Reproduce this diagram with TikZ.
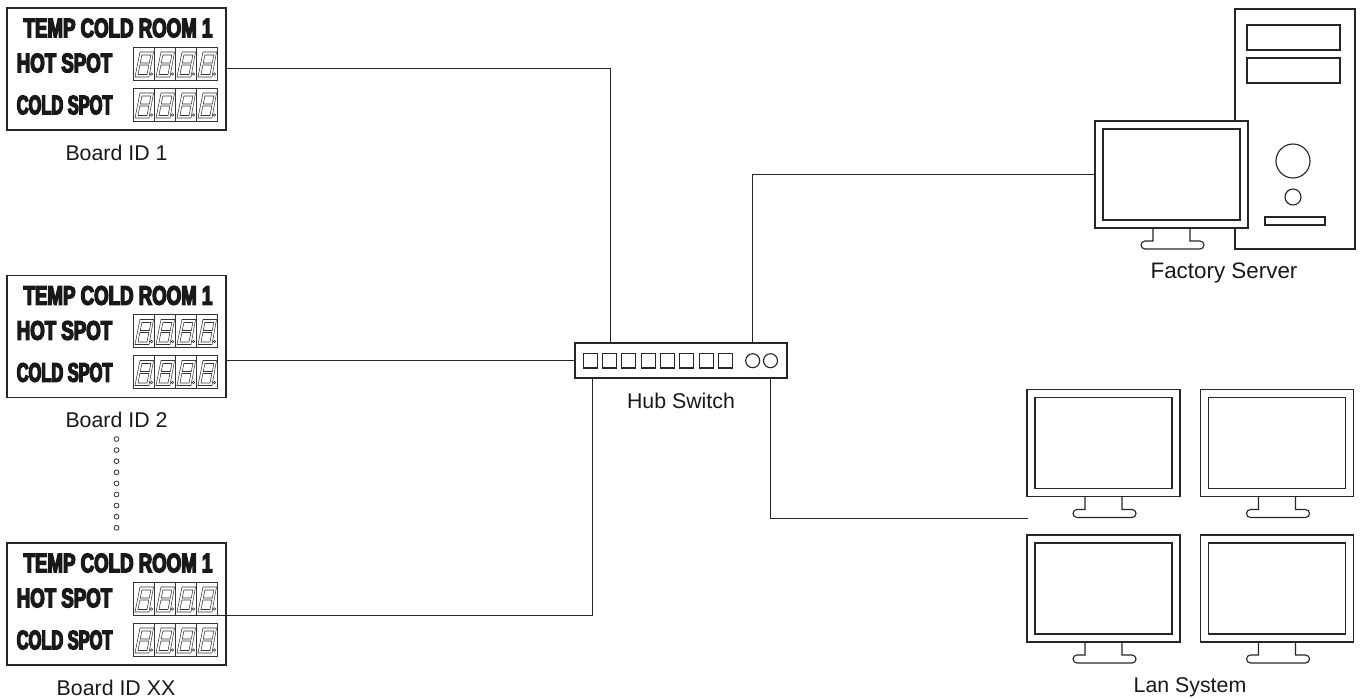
\documentclass[tikz,border=0pt]{standalone}
\usepackage{fontspec}
\setmainfont{Liberation Sans}
\newfontfamily\boardfont{Liberation Sans}[FakeStretch=0.70,BoldFeatures={FakeBold=5}]
\newfontfamily\coldfont{Liberation Sans}[FakeStretch=0.615,BoldFeatures={FakeBold=5}]
\usetikzlibrary{calc}
\def\un{0.75pt}
\tikzset{
	line/.style={black!85, line width=0.85pt},
	thinline/.style={black!80, line width=0.4pt},
	board/.style={draw=black!85, line width=1pt, minimum width=219*\un, minimum height=122*\un, inner sep=0pt},
	boardtext/.style={font=\boardfont\bfseries\fontsize{20}{22}\selectfont, inner sep=0pt, text=black!90},
	coldtext/.style={font=\coldfont\bfseries\fontsize{20}{22}\selectfont, inner sep=0pt, text=black!90},
	caption/.style={font=\fontsize{16}{18}\selectfont, inner sep=0pt, text=black!90},
	pics/digits/.style={code={
		\draw[thinline, line width=0.5pt] (0,0) rectangle (84,33);
		\foreach \i in {0,1,2,3}{
			\begin{scope}[shift={(21*\i,0)}]
				\draw[thinline, line width=0.5pt] (0,0) -- (0,33);
				\draw[thinline] (2,30) -- (16,30) -- (20.5,5) -- (7,5) -- cycle;
				\draw[thinline] (7.3,16) -- (16.3,16) -- (17.9,8) -- (8.9,8) -- cycle;
				\draw[thinline] (5,27.5) -- (14,27.5) -- (15.9,18) -- (6.9,18) -- cycle;
				\draw[thinline] (18.5,27) circle (1.2);
			\end{scope}
		}
	}},
	pics/tempboard/.style={code={
		\node[board] (-box) at (109.5,61) {};
		\node[boardtext] (-title) at (111,20) {TEMP COLD ROOM 1};
		\node[boardtext, anchor=west] (-hot) at (9.5,55) {HOT SPOT};
		\node[coldtext, anchor=west] (-cold) at (9.5,97) {COLD SPOT};
		\pic at (126,39) {digits};
		\pic at (126,80) {digits};
	}},
	pics/monitor/.style={code={
		\node[draw=black!85, line width=1pt, minimum width=153*\un, minimum height=107*\un, inner sep=0pt, fill=white] (-outer) at (76.5,53.5) {};
		\draw[line] (8,8) rectangle (145,99);
		\draw[line] (58,107) -- (58,120) -- (50,120) arc[start angle=-90, end angle=-270, radius=4] -- (105,128) arc[start angle=90, end angle=-90, radius=4] -- (95,120) -- (95,107);
	}}
}
\begin{document}
\begin{tikzpicture}[x=\un, y=-\un]
	\useasboundingbox (0,0) rectangle (1360,699);
	\pic (boardA) at (7,8) {tempboard};
	\pic (boardB) at (7,275.5) {tempboard};
	\pic (boardC) at (7,543) {tempboard};
	\node[caption] (capA) at (116.5,153) {Board ID 1};
	\node[caption] (capB) at (116.5,420) {Board ID 2};
	\node[caption] (capC) at (116,688) {Board ID XX};
	\foreach \k in {0,...,8}
		\draw[thinline, line width=0.6pt] (116.5,{439+11.1*\k}) circle (2.4);
	\node[draw=black!85, line width=1pt, minimum width=212*\un, minimum height=35*\un, inner sep=0pt] (hub) at (681,360.5) {};
	\foreach \k in {0,...,7}
		\draw[line] ({583.3+19.3*\k},353.5) rectangle ++(14,14.5);
	\draw[line] (752.7,360.7) circle (7);
	\draw[line] (770.5,360.7) circle (7);
	\node[caption] (caphub) at (681,401) {Hub Switch};
	\draw[line] (1235,228) -- (1235,249) -- (1355,249) -- (1355,9) -- (1235,9) -- (1235,121);
	\draw[line] (1247,25) rectangle (1340,50);
	\draw[line] (1247,58) rectangle (1340,83);
	\draw[line] (1293,161) circle (17);
	\draw[line] (1293,197) circle (8);
	\draw[line] (1265,217) rectangle (1325,225);
	\pic (server) at (1095,121) {monitor};
	\node[caption, font=\fontsize{16.8}{18}\selectfont] (capserver) at (1224,273) {Factory Server};
	\pic (lanA) at (1027,389.5) {monitor};
	\pic (lanB) at (1200.5,389.5) {monitor};
	\pic (lanC) at (1027,535) {monitor};
	\pic (lanD) at (1200.5,535) {monitor};
	\node[caption] (caplan) at (1190,687) {Lan System};
	\coordinate (hubA) at (610.5,343);
	\coordinate (hubB) at (752.5,343);
	\coordinate (hubC) at (592.5,378);
	\coordinate (hubD) at (770.5,378);
	\coordinate (lanin) at (1028,518.5);
	\coordinate (boardCout) at (189,615.5);
	\draw[line] (boardA-box.east |- 0,68.5) -| (hubA);
	\draw[line] (boardB-box.east |- hub.west) -- (hub.west);
	\draw[line] (boardCout) -| (hubC);
	\draw[line] (hubB) |- (server-outer.west);
	\draw[line] (hubD) |- (lanin);
\end{tikzpicture}
\end{document}
